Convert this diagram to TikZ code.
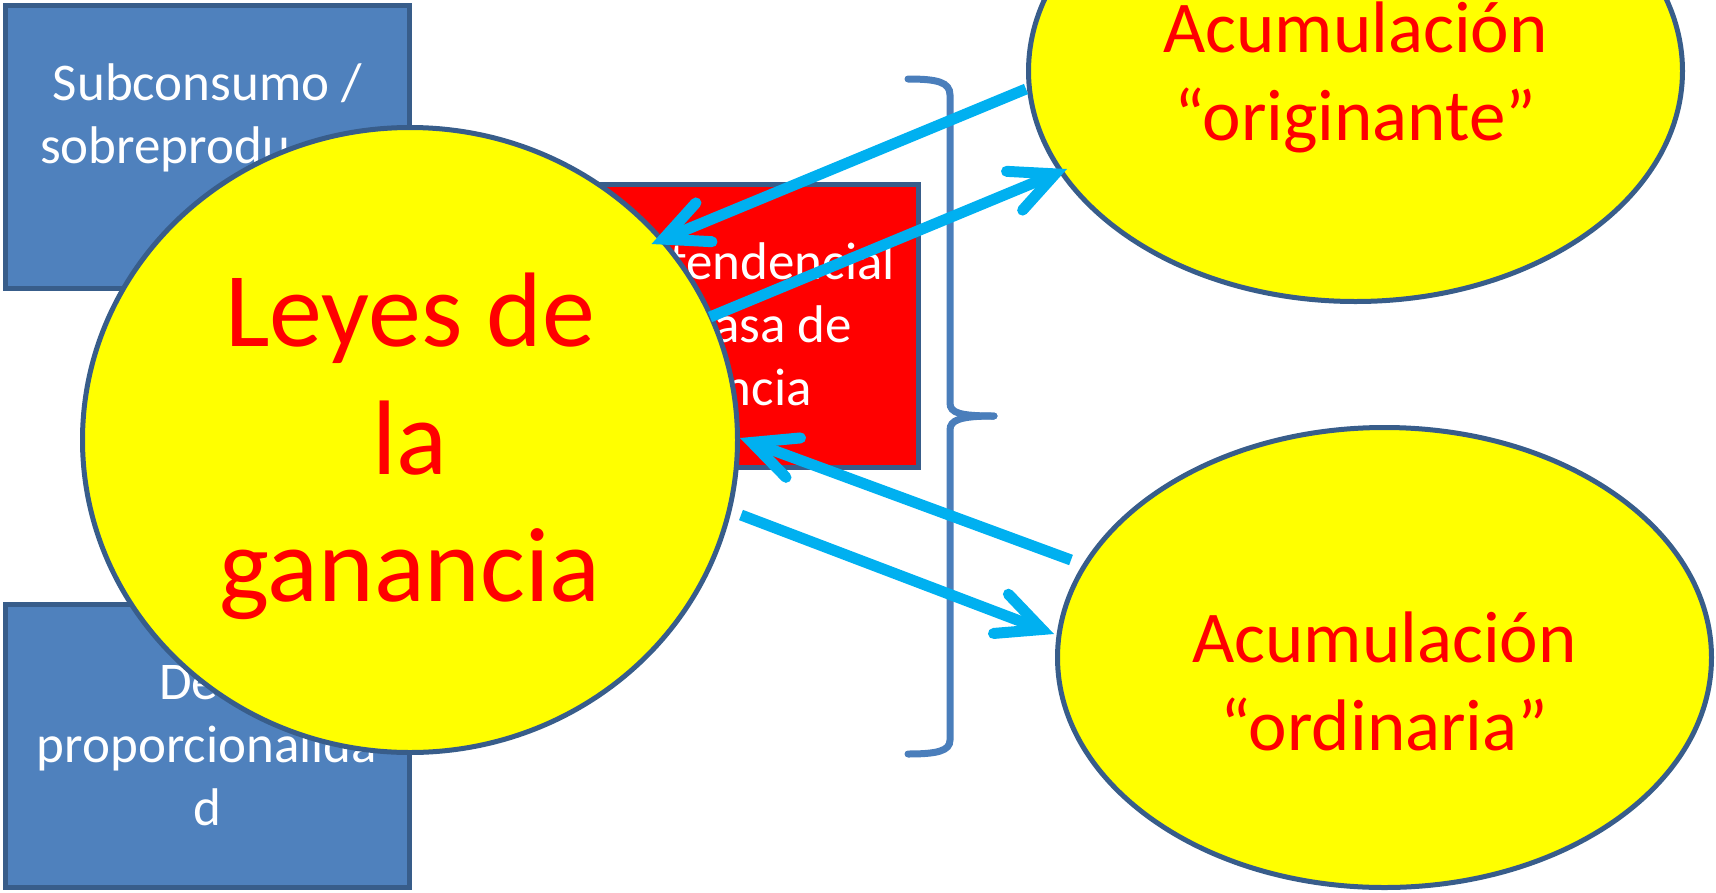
\documentclass[tikz,border=0pt]{standalone}
\usepackage{fontspec}
\setmainfont{Carlito}
\usetikzlibrary{arrows.meta,shapes.geometric}
\definecolor{boxfill}{HTML}{4F81BD}
\definecolor{boxline}{HTML}{385D8A}
\definecolor{arrowcyan}{HTML}{00B0F0}
\definecolor{bracecol}{HTML}{4A7EBB}
\definecolor{yel}{HTML}{FFFF00}
\definecolor{pptred}{HTML}{FF0000}
\newcommand\topst[1]{\rule{0pt}{#1}}
\newcommand\botst{\rule[-0.25em]{0pt}{0pt}}
\begin{document}
\begin{tikzpicture}[x=1pt,y=-1pt,
  bluebox/.style={rectangle, draw=boxline, line width=5pt, fill=boxfill,
    minimum width=404pt, minimum height=283pt, inner sep=0pt, align=center,
    text=white, font=\fontsize{53}{63}\selectfont},
  redbox/.style={bluebox, fill=pptred},
  yellell/.style={ellipse, draw=boxline, line width=5pt, fill=yel,
    inner sep=0pt, align=center, text=pptred},
  link/.style={draw=arrowcyan, line width=11pt,
    -{Straight Barb[length=44pt,width=42pt,line cap=round,line join=miter]}},
  bracket/.style={draw=bracecol, line width=7pt, line cap=round}
]
\useasboundingbox (0,0) rectangle (1716,892);
\clip (0,0) rectangle (1716,892);

% boxes behind the big circle
\node[bluebox] (subc) at (207.5,147)
  {\topst{46pt}Subconsumo /\\sobreprodu\phantom{cció}\\\phantom{n}\botst};
\node[bluebox] (desp) at (207,746)
  {\topst{46pt}Des-\\proporcionalida\\d\botst};
\node[redbox] (caida) at (716.5,326)
  {\topst{46pt}Caída tendencial\\de la tasa de\\ganancia\botst};

% ellipses
\node[yellell, minimum width=655pt, minimum height=625pt,
  font=\fontsize{106}{127.5}\selectfont] (leyes) at (410,440)
  {\topst{0.9em}Leyes de\\la\\ganancia\botst};
\node[yellell, minimum width=654pt, minimum height=461pt,
  font=\fontsize{73}{88}\selectfont] (orig) at (1355.5,71)
  {\topst{0.95em}Acumulación\\“originante”\botst};
\node[yellell, minimum width=654pt, minimum height=460pt,
  font=\fontsize{73}{88}\selectfont] (ord) at (1384.5,657.5)
  {\topst{117pt}Acumulación\\“ordinaria”\botst};

% brace
\draw[bracket] (908,79) .. controls (937,79) and (950,82) .. (950,95)
  -- (950,403) .. controls (950,413) and (960,416) .. (994,416);
\draw[bracket] (994,416) .. controls (960,416) and (950,420) .. (950,430)
  -- (950,740) .. controls (950,751) and (937,754) .. (908,754);

% connector end points
\coordinate (a1s) at (1026,89);
\coordinate (a1e) at (651.5,244);
\coordinate (a2s) at (710,317);
\coordinate (a2e) at (1067,169);
\coordinate (a3s) at (1071,560);
\coordinate (a3e) at (740,438);
\coordinate (a4s) at (741,515);
\coordinate (a4e) at (1054,634);

\draw[link] (a1s) -- (a1e);
\draw[link] (a2s) -- (a2e);
\draw[link] (a3s) -- (a3e);
\draw[link] (a4s) -- (a4e);
\end{tikzpicture}
\end{document}
